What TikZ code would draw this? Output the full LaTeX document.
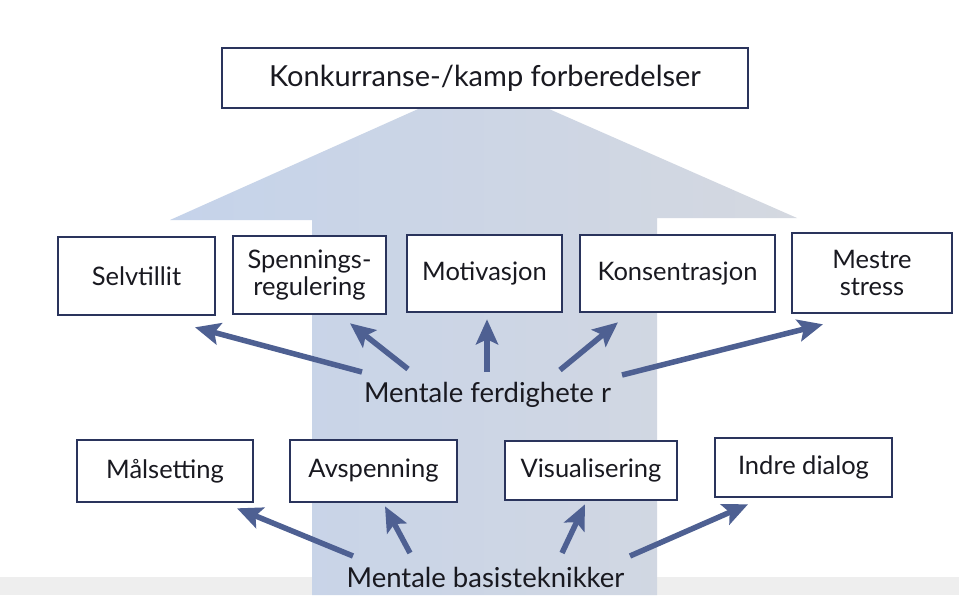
\documentclass[tikz,border=0pt]{standalone}
\usepackage{fontspec}
\setmainfont{Lato}
\usetikzlibrary{arrows.meta}
\definecolor{arrowbg}{RGB}{197,211,234}
\definecolor{arrowbgR}{RGB}{212,216,224}
\definecolor{boxline}{RGB}{42,52,92}
\definecolor{arrcol}{RGB}{78,96,146}
\definecolor{txt}{RGB}{25,25,32}
\definecolor{band}{RGB}{238,238,238}
\tikzset{
  box/.style={draw=boxline, line width=2.6pt, fill=white, text=txt, inner sep=0pt, align=center, font=\fontsize{25.5}{27}\selectfont},
  lbl/.style={text=txt, inner sep=0pt, anchor=base, font=\fontsize{27.5}{30}\selectfont},
  arr/.style={draw=arrcol, line width=5.5pt, -{Stealth[length=25pt,width=22pt,inset=5pt]}},
}
\begin{document}
\begin{tikzpicture}[x=1pt,y=-1pt]
\useasboundingbox (0,0) rectangle (959,595);
\fill[white] (0,0) rectangle (959,595);
\fill[band] (0,577) rectangle (959,595);
% big background arrow
\shade[left color=arrowbg, right color=arrowbgR]
  (312,595) -- (312,220) -- (170,220) -- (483,80) -- (797,218) -- (657,218) -- (657,595) -- cycle;
% top box
\node[box, minimum width=526pt, minimum height=60pt, font=\fontsize{29}{31}\selectfont] (top) at (485,78) {Konkurranse-/kamp forberedelser};
% row 1
\node[box, minimum width=157pt, minimum height=78pt] (b1) at (136.5,276) {Selvtillit};
\node[box, minimum width=153pt, minimum height=78pt] (b2) at (309.5,275) {Spennings-\\regulering};
\node[box, minimum width=155pt, minimum height=77pt] (b3) at (484.5,273.5) {Motivasjon};
\node[box, minimum width=195pt, minimum height=77pt] (b4) at (677.5,273.5) {Konsentrasjon};
\node[box, minimum width=160pt, minimum height=80pt] (b5) at (872,273) {Mestre\\stress};
\node[lbl] (lab1) at (487.5,402) {Mentale ferdighete r};
% row 2
\node[box, minimum width=176pt, minimum height=62pt] (c1) at (165,471) {Målsetting};
\node[box, minimum width=167pt, minimum height=62pt] (c2) at (373.5,471) {Avspenning};
\node[box, minimum width=172pt, minimum height=59pt] (c3) at (591,470.5) {Visualisering};
\node[box, minimum width=177pt, minimum height=59pt] (c4) at (803.5,467.5) {Indre dialog};
\node[lbl] (lab2) at (485.5,587) {Mentale basisteknikker};
% arrows row 1
\draw[arr] ([shift={(-125.5,-30)}]lab1.base) -- ([shift={(58.5,11)}]b1.south);
\draw[arr] ([shift={(-79.5,-33)}]lab1.base) -- ([shift={(40.5,8)}]b2.south);
\draw[arr] ([shift={(-0.5,-30)}]lab1.base) -- ([shift={(2.5,6)}]b3.south);
\draw[arr] ([shift={(72.5,-32)}]lab1.base) -- ([shift={(-59.5,9)}]b4.south);
\draw[arr] ([shift={(134.5,-27)}]lab1.base) -- ([shift={(-49,10)}]b5.south);
% arrows row 2
\draw[arr] ([shift={(-132.5,-31)}]lab2.base) -- ([shift={(72,5)}]c1.south);
\draw[arr] ([shift={(-75.5,-34)}]lab2.base) -- ([shift={(11.5,3)}]c2.south);
\draw[arr] ([shift={(76.5,-34)}]lab2.base) -- ([shift={(-6,3)}]c3.south);
\draw[arr] ([shift={(144.5,-31)}]lab2.base) -- ([shift={(-55.5,6)}]c4.south);
\end{tikzpicture}
\end{document}
